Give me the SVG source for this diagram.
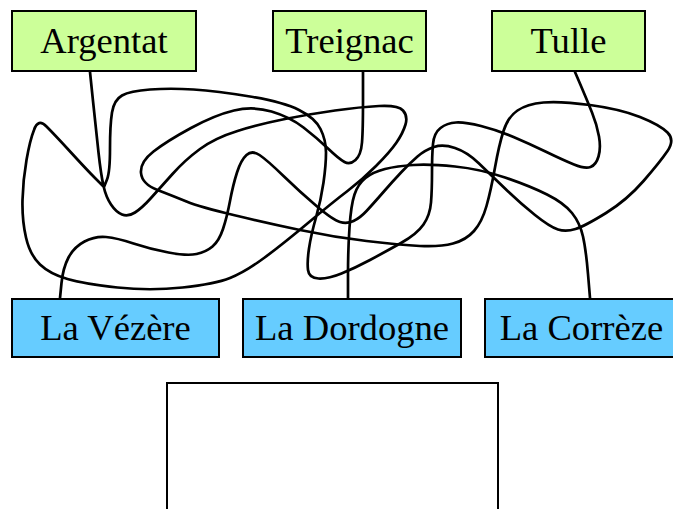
<svg xmlns="http://www.w3.org/2000/svg" width="673" height="509" viewBox="0 0 673 509">
<style>
.box{stroke:#000;stroke-width:2}
.top{fill:#ccff99}
.bot{fill:#66ccff}
.lbl{font-family:"Liberation Serif","Times New Roman",serif;font-size:36.6px;fill:#000;text-anchor:middle}
.edge{fill:none;stroke:#000;stroke-width:2.7;stroke-linejoin:round;stroke-linecap:round}
</style>
<rect width="673" height="509" fill="#fff"/>
<g id="connectors">
<path id="e-argentat-tulle" class="edge" d="M90,72 L93,101 Q96,130 98.5,152.5 Q101,175 103.5,186 Q106,197 111,204.5 Q116,212 122,214.5 Q128,217 135,212.5 Q142,208 151,198 Q160,188 172.5,174 Q185,160 200,149 Q215,138 237.5,131 Q260,124 285,119 Q310,114 335,110.5 Q360,107 379,106 Q398,105 403,110.5 Q408,116 405.5,124.5 Q403,133 396.5,142.5 Q390,152 376,166 Q362,180 347.5,191 Q333,202 308,223 Q283,244 264,258 Q245,272 230,278 Q215,284 182.5,287.5 Q150,291 117.5,287.5 Q85,284 67.5,279 Q50,274 40,264.5 Q30,255 26,237.5 Q22,220 22.5,200 Q23,180 26.5,160 Q30,140 34,130 Q38,118 46.5,126.5 Q55,135 71,152.5 Q87,170 95.5,178.5 L104,187 L107,179.5 Q110,172 110,148.5 Q110,125 112,112.5 Q114,100 122,95.5 Q130,91 150,89.5 Q170,88 193.5,89.5 Q217,91 250,96.5 Q283,102 299,110 Q315,118 320.5,129 Q326,140 326,152.5 Q326,165 323.5,182.5 Q321,200 316,217.5 Q311,235 309,248.5 Q307,262 308,270 Q309,278 318.5,278.5 Q328,279 341.5,273.5 Q355,268 370,260 Q385,252 401,243 Q417,234 423.5,224.5 Q430,215 431,202.5 Q432,190 432,172.5 Q432,155 433,144 Q434,133 440.5,128 Q447,123 456,122.5 Q465,122 481,126 Q497,130 513.5,137 Q530,144 546.5,152 Q563,160 574,164.5 Q585,169 590.5,167 Q596,165 598.5,156.5 Q601,148 599,136.5 Q597,125 592,112.5 Q587,100 581,86 L575,72"/>
<path id="e-treignac-vezere" class="edge" d="M363,72 L363,101 Q363,130 362,142.5 Q361,155 355.5,160 Q350,165 344.5,162 Q339,159 328,148.5 Q317,138 303.5,127.5 Q290,117 271.5,111.5 Q253,106 234,110.5 Q215,115 191,128 Q167,141 153.5,151.5 Q140,162 141,173 Q142,184 157.5,190 Q173,196 186.5,201.5 Q200,207 233.5,215 Q267,223 300,230 Q333,237 366.5,241 Q400,245 420,246 Q440,247 453,243.5 Q466,240 474,231 Q482,222 486.5,206 Q491,190 495,167.5 Q499,145 503.5,131 Q508,117 517.5,110.5 Q527,104 543.5,102.5 Q560,101 590,105 Q620,109 640,117 Q660,125 667.5,132.5 Q675,140 667.5,151 Q660,162 643.5,181 Q627,200 606,213 Q585,226 575.5,229 Q566,232 558,229.5 Q550,227 535,215 Q520,203 505,188.5 Q490,174 478.5,163 Q467,152 455,148 Q443,144 434,147 Q425,150 417.5,156.5 Q410,163 401.5,172 Q393,181 383,192.5 Q373,204 366.5,211 Q360,218 353.5,221 Q347,224 340,222 Q333,220 316.5,206 Q300,192 283.5,176 Q267,160 259.5,155 Q252,150 246.5,155 Q241,160 237,172.5 Q233,185 230,201 Q227,217 223,229 Q219,241 212.5,246.5 Q206,252 196.5,254 Q187,256 168.5,252.5 Q150,249 133.5,243.5 Q117,238 106,237 Q95,236 84.5,241.5 Q74,247 68.5,257.5 Q63,268 61.5,283 L60,298"/>
<path id="e-dordogne-correze" class="edge" d="M348,298 L348,274 Q348,250 349.5,227.5 Q351,205 354.5,194.5 Q358,184 365.5,178 Q373,172 385,169 Q397,166 413.5,165 Q430,164 455,166.5 Q480,169 505,177.5 Q530,186 547,194.5 Q564,203 572,213 Q580,223 583,236.5 Q586,250 588,274 L590,298"/>
</g>
<g id="argentat"><rect class="box top" x="12" y="11" width="184" height="60"/><text class="lbl" x="104" y="53">Argentat</text></g>
<g id="treignac"><rect class="box top" x="273" y="11" width="153" height="60"/><text class="lbl" x="349.5" y="53">Treignac</text></g>
<g id="tulle"><rect class="box top" x="492" y="11" width="153" height="60"/><text class="lbl" x="568.5" y="53">Tulle</text></g>
<g id="la-vezere"><rect class="box bot" x="12" y="299" width="207" height="58"/><text class="lbl" x="115.5" y="340">La Vézère</text></g>
<g id="la-dordogne"><rect class="box bot" x="243" y="299" width="218" height="58"/><text class="lbl" x="352" y="340">La Dordogne</text></g>
<g id="la-correze"><rect class="box bot" x="485" y="299" width="193" height="58"/><text class="lbl" x="581.5" y="340">La Corrèze</text></g>
<g id="empty-box"><rect class="box" x="167" y="383" width="331" height="140" fill="#fff"/></g>
</svg>
